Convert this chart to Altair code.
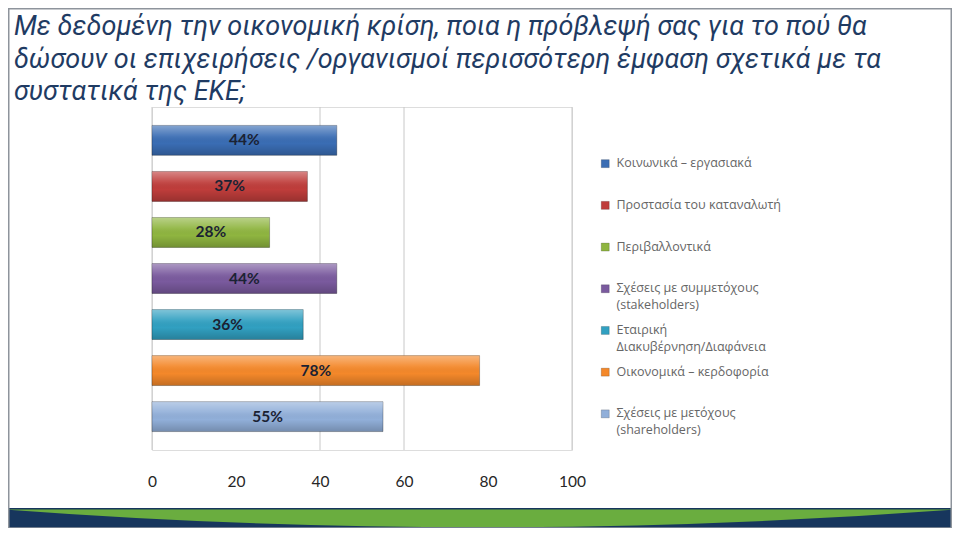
import altair as alt
import pandas as pd

# ---- data -------------------------------------------------------------
categories = [
    "Κοινωνικά – εργασιακά",
    "Προστασία του καταναλωτή",
    "Περιβαλλοντικά",
    "Σχέσεις με συμμετόχους|(stakeholders)",
    "Εταιρική|Διακυβέρνηση/Διαφάνεια",
    "Οικονομικά – κερδοφορία",
    "Σχέσεις με μετόχους|(shareholders)",
]
values = [44, 37, 28, 44, 36, 78, 55]
bar_labels = ["44%", "37%", "28%", "44%", "36%", "78%", "55%"]
colors = ["#3a6db4", "#bf3d3b", "#8fb540", "#7a5a9e", "#31a0c1", "#f4882a", "#91afd9"]
axis_ticks = [0, 20, 40, 60, 80, 100]
grid_values = [0, 40, 60, 100]
title_lines = [
    "Με δεδομένη την οικονομική κρίση, ποια η πρόβλεψή σας για το πού θα",
    "δώσουν οι επιχειρήσεις /οργανισμοί  περισσότερη έμφαση  σχετικά με τα",
    "συστατικά της  ΕΚΕ;",
]

df = pd.DataFrame({"category": categories, "value": values, "label": bar_labels})
grid_df = pd.DataFrame({"g": grid_values})
deco_df = pd.DataFrame({"k": [0]})

# ---- scales / axes ----------------------------------------------------
xscale = alt.Scale(domain=[0, 100], nice=False, zero=True)
yscale = alt.Scale(domain=categories, paddingInner=0.35, paddingOuter=0.4)
xaxis = alt.Axis(
    values=axis_ticks, grid=False, domain=False, ticks=False, title=None,
    labelFont="Lato", labelFontSize=15.5, labelColor="#262626",
    labelPadding=24, labelFlush=False,
)

legend = alt.Legend(
    orient="none", legendX=447, legendY=54, title=None,
    symbolType="M -1 -1.9 L 1 -1.9 L 1 0.1 L -1 0.1 Z", symbolSize=64,
    symbolStrokeColor="rgba(0,0,0,0.35)", symbolStrokeWidth=0.5,
    labelFont="Open Sans", labelFontSize=12.5, labelColor="#666666",
    labelExpr="split(datum.label, '|')", labelBaseline="alphabetic",
    labelOffset=5, labelLimit=300, gridAlign="all", rowPadding=11.7, padding=0,
)

# ---- layers -----------------------------------------------------------
grid = alt.Chart(grid_df).mark_rule(color="#c8c8c8", strokeWidth=1).encode(
    x=alt.X("g:Q", scale=xscale, axis=xaxis)
)

bars = alt.Chart(df).mark_bar(stroke="rgba(0,0,0,0.28)", strokeWidth=1).encode(
    x=alt.X("value:Q", scale=xscale, axis=xaxis),
    y=alt.Y("category:N", scale=yscale, axis=None, sort=categories),
    color=alt.Color("category:N", scale=alt.Scale(domain=categories, range=colors),
                    legend=legend, sort=categories),
)

sheen = alt.Chart(df).mark_bar(
    fill=alt.LinearGradient(
        gradient="linear", x1=0, x2=0, y1=0, y2=1,
        stops=[
            alt.GradientStop(color="rgba(255,255,255,0.38)", offset=0),
            alt.GradientStop(color="rgba(255,255,255,0.08)", offset=0.35),
            alt.GradientStop(color="rgba(0,0,0,0)", offset=0.6),
            alt.GradientStop(color="rgba(0,0,0,0.2)", offset=1),
        ],
    ),
    strokeWidth=0,
).encode(
    x=alt.X("value:Q", scale=xscale, axis=xaxis),
    y=alt.Y("category:N", scale=yscale, axis=None, sort=categories),
)

texts = alt.Chart(df).transform_calculate(mid="datum.value / 2").mark_text(
    font="Lato", fontWeight="bold", fontSize=15.5, color="#1b2233",
    align="center", baseline="middle",
).encode(
    x=alt.X("mid:Q", scale=xscale, axis=xaxis),
    y=alt.Y("category:N", scale=yscale, axis=None, sort=categories),
    text="label:N",
)

# slide decorations (footer band and frame)
band = alt.Chart(deco_df).mark_rect(color="#17365d").encode(
    x=alt.value(-144), x2=alt.value(800), y=alt.value(401), y2=alt.value(421)
)
wave = alt.Chart(deco_df).mark_point(
    shape="M -1 0 Q 0 0.075 1 0 Z", size=904000, filled=True,
    color="#6aad3f", opacity=1, strokeWidth=0,
).encode(x=alt.value(328), y=alt.value(402.5))
frame = alt.Chart(deco_df).mark_rect(filled=False, stroke="#8e949c", strokeWidth=1.5).encode(
    x=alt.value(-143.25), x2=alt.value(799.25), y=alt.value(-98.25), y2=alt.value(421)
)

chart = alt.layer(band, wave, frame, grid, bars, sheen, texts).properties(
    width=420,
    height=343,
    padding={"left": 144, "top": 99, "right": 380, "bottom": 78},
    autosize=alt.AutoSizeParams(type="none"),
    title=alt.TitleParams(
        text=title_lines, anchor="start", frame="group", baseline="bottom",
        font="Roboto", fontStyle="italic", fontWeight="normal",
        fontSize=27, color="#1f3b63", lineHeight=32.5, dx=-138, dy=125, offset=0,
    ),
).configure_view(stroke=None).configure(
    background="white",
    style={"guide-label": {"lineHeight": 17}},
)

chart.save("out.html", embed_options={"renderer": "svg", "actions": False})
